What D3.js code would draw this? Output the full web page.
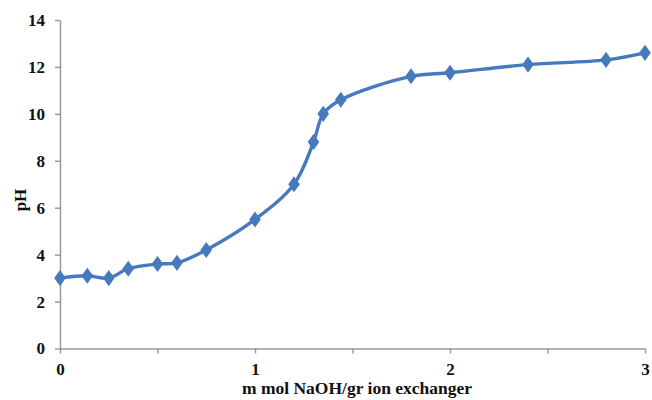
<!DOCTYPE html>
<html>
<head>
<meta charset="utf-8">
<script src="https://cdn.jsdelivr.net/npm/d3@7"></script>
<style>
  body { margin: 0; background: #fff; }
  text { font-family: "Liberation Serif", "DejaVu Serif", serif; font-weight: bold; fill: #111; }
</style>
</head>
<body>
<svg width="652" height="400"></svg>
<script>
// titration curve: mmol NaOH per gram vs pH
const naoh = [0, 0.14, 0.25, 0.35, 0.5, 0.6, 0.75, 1.0, 1.2, 1.3, 1.35, 1.44, 1.8, 2.0, 2.4, 2.8, 3.0];
const ph   = [3.0, 3.1, 3.0, 3.4, 3.6, 3.65, 4.2, 5.5, 7.0, 8.8, 10.0, 10.6, 11.6, 11.75, 12.1, 12.3, 12.6];

const xTicks = [0, 0.5, 1, 1.5, 2, 2.5, 3];
const xLabels = { 0: '0', 1: '1', 2: '2', 3: '3' };
const yTicks = [0, 2, 4, 6, 8, 10, 12, 14];

const LEFT = 60, RIGHT = 645, TOP = 20, BOTTOM = 348.5;
const COLOR = '#4679bd';

const x = d3.scaleLinear().domain([0, 3]).range([LEFT, RIGHT]);
const y = d3.scaleLinear().domain([0, 14]).range([BOTTOM, TOP]);

const svg = d3.select('svg');
const points = naoh.map((d, i) => ({ x: d, y: ph[i] }));

// AXES
const xAxis = svg.append('g')
    .attr('transform', `translate(0, ${BOTTOM})`)
    .call(d3.axisBottom(x).tickValues(xTicks).tickSize(5).tickSizeOuter(0)
        .tickFormat(d => xLabels[d] || ''));
const yAxis = svg.append('g')
    .attr('transform', `translate(${LEFT}, 0)`)
    .call(d3.axisLeft(y).tickValues(yTicks).tickSize(5).tickSizeOuter(0));

[xAxis, yAxis].forEach(g => {
    g.select('.domain').attr('stroke', '#9a9a9a').attr('stroke-width', 1.5);
    g.selectAll('.tick line').attr('stroke', '#9a9a9a').attr('stroke-width', 1.5);
    g.selectAll('.tick text').attr('font-size', 17).attr('fill', '#111')
        .attr('font-family', '"Liberation Serif", serif').attr('font-weight', 'bold');
});
xAxis.selectAll('.tick text').attr('y', 9).attr('dy', '1.0em');
yAxis.selectAll('.tick text').attr('x', -15);

// LINE
const line = d3.line().x(d => x(d.x)).y(d => y(d.y)).curve(d3.curveCatmullRom.alpha(0.5));
svg.append('path')
    .datum(points)
    .attr('d', line)
    .attr('fill', 'none')
    .attr('stroke', COLOR)
    .attr('stroke-width', 3.4)
    .attr('stroke-linejoin', 'round');

// DIAMOND MARKERS
svg.selectAll('.marker')
    .data(points)
    .enter()
    .append('path')
    .classed('marker', true)
    .attr('d', d3.symbol().type(d3.symbolDiamond).size(75))
    .attr('transform', d => `translate(${x(d.x)}, ${y(d.y)}) scale(1.25, 1)`)
    .attr('fill', COLOR);

// AXIS TITLES
svg.append('text')
    .attr('x', 357)
    .attr('y', 394)
    .attr('text-anchor', 'middle')
    .attr('font-size', 17.5)
    .text('m mol NaOH/gr ion exchanger');

svg.append('text')
    .attr('transform', 'translate(26, 200) rotate(-90)')
    .attr('text-anchor', 'middle')
    .attr('font-size', 17)
    .text('pH');
</script>
</body>
</html>
